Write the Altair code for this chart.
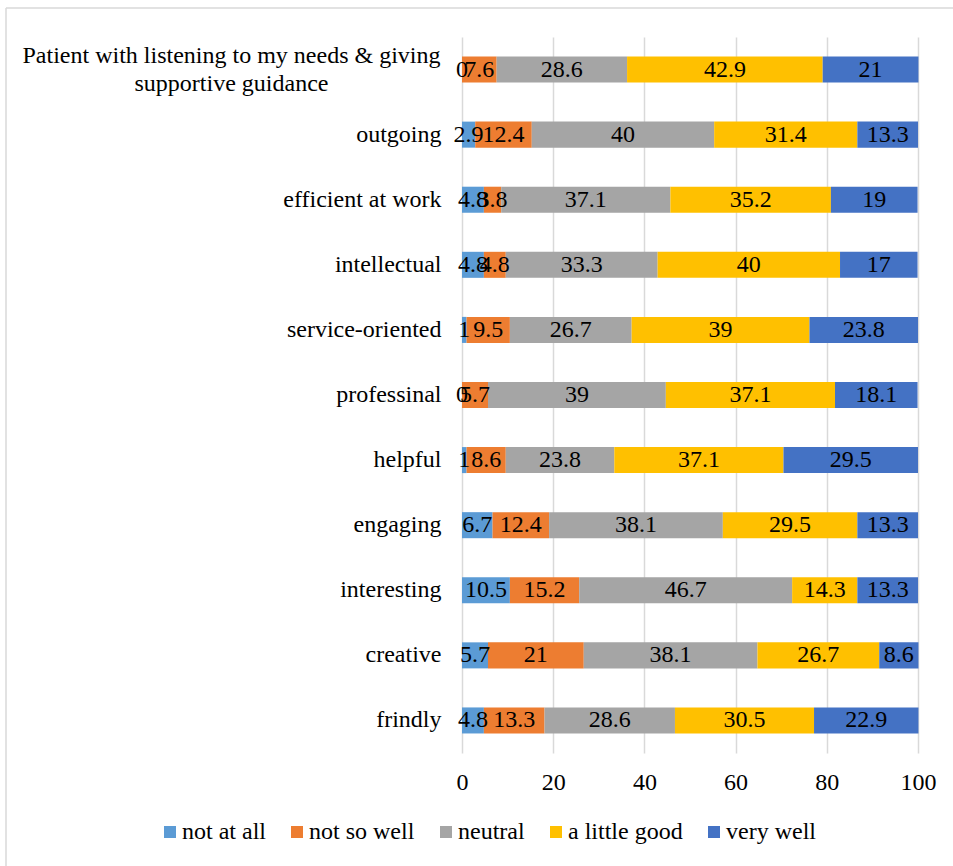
import altair as alt
import pandas as pd

categories = [
    "Patient with listening to my needs & giving supportive guidance",
    "outgoing",
    "efficient at work",
    "intellectual",
    "service-oriented",
    "professinal",
    "helpful",
    "engaging",
    "interesting",
    "creative",
    "frindly",
]
series_names = ["not at all", "not so well", "neutral", "a little good", "very well"]
not_at_all = [0, 2.9, 4.8, 4.8, 1, 0, 1, 6.7, 10.5, 5.7, 4.8]
not_so_well = [7.6, 12.4, 3.8, 4.8, 9.5, 5.7, 8.6, 12.4, 15.2, 21, 13.3]
neutral = [28.6, 40, 37.1, 33.3, 26.7, 39, 23.8, 38.1, 46.7, 38.1, 28.6]
a_little_good = [42.9, 31.4, 35.2, 40, 39, 37.1, 37.1, 29.5, 14.3, 26.7, 30.5]
very_well = [21, 13.3, 19, 17, 23.8, 18.1, 29.5, 13.3, 13.3, 8.6, 22.9]
colors = ["#5B9BD5", "#ED7D31", "#A5A5A5", "#FFC000", "#4472C4"]
x_ticks = [0, 20, 40, 60, 80, 100]

series_values = [not_at_all, not_so_well, neutral, a_little_good, very_well]
rows = []
for si, (name, vals) in enumerate(zip(series_names, series_values)):
    for cat, v in zip(categories, vals):
        rows.append({"category": cat, "series": name, "order": si,
                     "value": v, "label": f"{v:g}"})
df = pd.DataFrame(rows)

FONT = "Liberation Serif"
FS = 24
long_label = categories[0]
is_long = f"datum.label == '{long_label}'"
label_expr = (
    f"{is_long} ? "
    f"['Patient with listening to my needs & giving', 'supportive guidance'] "
    f": datum.label"
)

base = alt.Chart(df).transform_stack(
    stack="value", as_=["v0", "v1"], groupby=["category"],
    sort=[alt.SortField("order", order="ascending")]
).transform_calculate(mid="(datum.v0 + datum.v1) / 2")

y_enc = alt.Y(
    "category:N", sort=categories, title=None,
    scale=alt.Scale(paddingInner=0.6, paddingOuter=0.3),
    axis=alt.Axis(domain=False, ticks=False, grid=False, labelFont=FONT,
                  labelFontSize=FS, labelColor="#000000",
                  labelPadding={"condition": {"test": is_long, "value": 231}, "value": 21},
                  labelAlign={"condition": {"test": is_long, "value": "center"}, "value": "right"},
                  labelOffset={"condition": {"test": is_long, "value": -14}, "value": 0},
                  labelLimit=600, labelExpr=label_expr, labelLineHeight=28),
)

bars = base.mark_bar().encode(
    x=alt.X("v0:Q", title=None,
            scale=alt.Scale(domain=[0, 100], nice=False),
            axis=alt.Axis(values=x_ticks, domain=False, ticks=False, grid=True,
                          gridColor="#D9D9D9", gridWidth=1.5, labelFont=FONT,
                          labelFontSize=FS, labelColor="#000000",
                          labelPadding=17, labelFlush=False)),
    x2="v1:Q",
    y=y_enc,
    color=alt.Color("series:N", sort=series_names,
                    scale=alt.Scale(domain=series_names, range=colors),
                    legend=alt.Legend(title=None, orient="none", direction="horizontal",
                                      legendX=-304, legendY=783,
                                      symbolType="square", symbolSize=144,
                                      symbolStrokeWidth=0, labelFont=FONT,
                                      labelFontSize=FS, labelColor="#000000",
                                      labelOffset=0, columnPadding=19,
                                      labelLimit=300)),
    order=alt.Order("order:Q"),
)

texts = base.mark_text(font=FONT, fontSize=FS, color="#000000",
                       align="center", baseline="middle").encode(
    x=alt.X("mid:Q"),
    y=alt.Y("category:N", sort=categories),
    text="label:N",
)

frame_df = pd.DataFrame({"k": [0]})
top_border = alt.Chart(frame_df).mark_rule(color="#D9D9D9", strokeWidth=1.5).encode(
    x=alt.value(-456), x2=alt.value(495), y=alt.value(-29))
left_border = alt.Chart(frame_df).mark_rule(color="#D9D9D9", strokeWidth=1.5).encode(
    x=alt.value(-456), y=alt.value(-29), y2=alt.value(835))

chart = alt.layer(bars, texts, top_border, left_border).properties(
    width=456, height=716,
    autosize=alt.AutoSizeParams(type="none"),
    padding={"left": 462, "top": 37, "right": 35, "bottom": 113},
    background="white",
).configure(font=FONT).configure_view(stroke=None).configure_text(font=FONT).configure_legend(
    labelFont=FONT).configure_axis(labelFont=FONT)

chart.save("out.html", embed_options={"renderer": "svg", "actions": False})
